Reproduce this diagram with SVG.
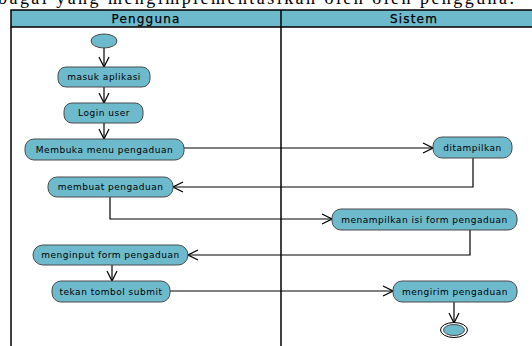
<svg xmlns="http://www.w3.org/2000/svg" width="532" height="346" viewBox="0 0 532 346">
<style>
.node{fill:#6dbacc;stroke:#4a4a4a;stroke-width:1}
.lbl{font-family:"DejaVu Sans",sans-serif;font-size:9px;letter-spacing:0.5px;fill:#000;text-anchor:middle}
.hdr{font-family:"DejaVu Sans",sans-serif;font-size:12px;letter-spacing:1.2px;fill:#000;text-anchor:middle;stroke:#000;stroke-width:0.25}
.con{fill:none;stroke:#000;stroke-width:1.2}
.lane{fill:none;stroke:#000;stroke-width:1.5}
</style>
<defs>
<marker id="arr" markerUnits="userSpaceOnUse" markerWidth="12" markerHeight="12" refX="11" refY="6" orient="auto">
<path d="M1,1 L11,6 L1,11" fill="none" stroke="#000" stroke-width="1.2"/>
</marker>
</defs>
<rect width="532" height="346" fill="#fff"/>
<text x="-2" y="3.5" font-family="Liberation Serif,serif" font-size="18" textLength="516">bagai yang mengimplementasikan oleh oleh pengguna.</text>
<g id="swimlanes">
<rect x="11" y="10" width="530" height="17" fill="#6dbacc" stroke="#000" stroke-width="1.5"/>
<line class="lane" x1="11" y1="27" x2="11" y2="346"/>
<line class="lane" x1="281" y1="10" x2="281" y2="346"/>
<text class="hdr" x="146" y="23">Pengguna</text>
<text class="hdr" x="414" y="23">Sistem</text>
</g>
<g id="connectors">
<line class="con" x1="104" y1="48" x2="104" y2="67" marker-end="url(#arr)"/>
<line class="con" x1="104" y1="87" x2="104" y2="103" marker-end="url(#arr)"/>
<line class="con" x1="104" y1="123" x2="104" y2="139" marker-end="url(#arr)"/>
<polyline class="con" points="184,148 433,148" marker-end="url(#arr)"/>
<polyline class="con" points="473,158 473,187 173,187" marker-end="url(#arr)"/>
<polyline class="con" points="110,197 110,219 332,219" marker-end="url(#arr)"/>
<polyline class="con" points="470,230 470,255 188,255" marker-end="url(#arr)"/>
<line class="con" x1="112" y1="265" x2="112" y2="281" marker-end="url(#arr)"/>
<polyline class="con" points="170,291 393,291" marker-end="url(#arr)"/>
<line class="con" x1="454" y1="302" x2="454" y2="323" marker-end="url(#arr)"/>
</g>
<g id="start"><ellipse class="node" cx="104" cy="41" rx="13" ry="7"/></g>
<g id="masuk-aplikasi"><rect class="node" x="58" y="67" width="92" height="20" rx="8"/><text class="lbl" x="104" y="80">masuk aplikasi</text></g>
<g id="login-user"><rect class="node" x="64" y="103" width="79" height="20" rx="8"/><text class="lbl" x="104" y="116">Login user</text></g>
<g id="membuka-menu"><rect class="node" x="25" y="139" width="159" height="21" rx="9"/><text class="lbl" x="104.5" y="152.5">Membuka menu pengaduan</text></g>
<g id="ditampilkan"><rect class="node" x="433" y="137" width="79" height="21" rx="9"/><text class="lbl" x="472.5" y="150.5">ditampilkan</text></g>
<g id="membuat-pengaduan"><rect class="node" x="48" y="177" width="125" height="20" rx="9"/><text class="lbl" x="110.5" y="190">membuat pengaduan</text></g>
<g id="menampilkan-form"><rect class="node" x="332" y="209" width="185" height="21" rx="9"/><text class="lbl" x="424.5" y="222.5">menampilkan isi form pengaduan</text></g>
<g id="menginput-form"><rect class="node" x="33" y="245" width="155" height="20" rx="10"/><text class="lbl" x="110.5" y="258">menginput form pengaduan</text></g>
<g id="tekan-submit"><rect class="node" x="52" y="281" width="118" height="21" rx="9"/><text class="lbl" x="111" y="294.5">tekan tombol submit</text></g>
<g id="mengirim-pengaduan"><rect class="node" x="393" y="281" width="124" height="21" rx="9"/><text class="lbl" x="455" y="294.5">mengirim pengaduan</text></g>
<g id="end"><ellipse cx="454" cy="330" rx="13.5" ry="7.5" fill="#fff" stroke="#000" stroke-width="1"/><ellipse class="node" cx="454" cy="330" rx="10.5" ry="5.5"/></g>
</svg>
